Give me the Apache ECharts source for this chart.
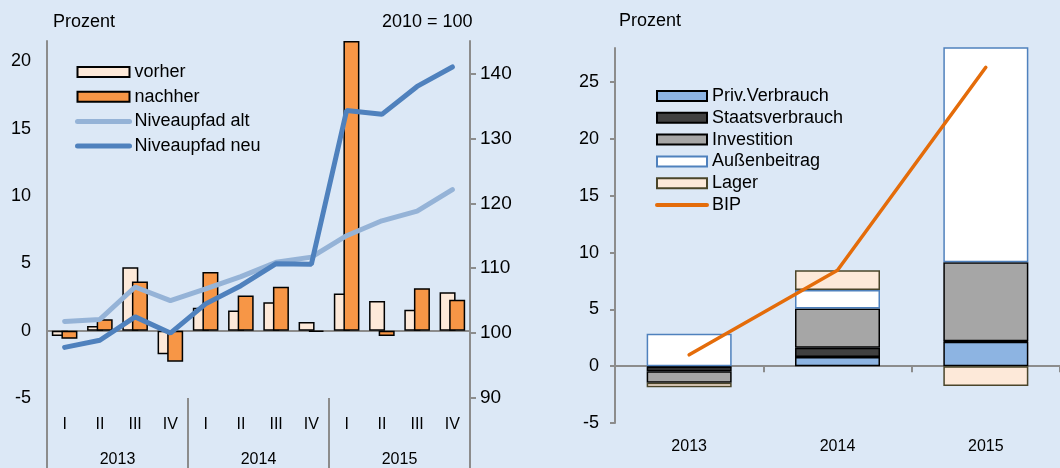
<!DOCTYPE html>
<html>
<head>
<meta charset="utf-8">
<script src="https://cdn.jsdelivr.net/npm/echarts@6/dist/echarts.min.js"></script>
<style>
  html, body { margin: 0; padding: 0; background: #DCE8F6; }
  #main { width: 1060px; height: 468px; }
</style>
</head>
<body>
<div id="main"></div>
<script>
// left panel: quarterly growth and level path
var quarters = ['I', 'II', 'III', 'IV', 'I', 'II', 'III', 'IV', 'I', 'II', 'III', 'IV'];
var years = ['2013', '2014', '2015'];
var vorher = [-0.4, 0.35, 4.7, -1.75, 1.7, 1.5, 2.1, 0.65, 2.75, 2.2, 1.55, 2.85];
var nachher = [-0.6, 0.85, 3.65, -2.3, 4.35, 2.6, 3.25, -0.1, 21.5, -0.4, 3.15, 2.3];
var nivAlt = [101.8, 102.1, 107.1, 105.0, 106.8, 108.7, 110.9, 111.7, 115.0, 117.3, 118.8, 122.1];
var nivNeu = [97.8, 98.9, 102.5, 100.0, 104.5, 107.3, 110.7, 110.6, 134.3, 133.7, 138.0, 141.0];
var leftTicks = [-5, 0, 5, 10, 15, 20];
var rightTicks = [90, 100, 110, 120, 130, 140];

// right panel: contributions per year
var priv = [-0.05, 0.8, 2.15];
var staat = [-0.4, 0.82, 0.05];
var invest = [-1.0, 3.45, 6.95];
var aussen = [2.85, 1.63, 19.1];
var lager = [-0.4, 1.75, -1.75];
var bip = [1.0, 8.45, 26.3];
var contribTicks = [-5, 0, 5, 10, 15, 20, 25];

var font = 'Liberation Sans, Arial, sans-serif';
var grey = '#8C8C8C';
var noDot = { color: 'rgba(0,0,0,0)', borderWidth: 0 };

var myChart = echarts.init(document.getElementById('main'));

var option = {
    backgroundColor: '#DCE8F6',
    animation: false,
    textStyle: { fontFamily: font, color: '#000' },
    title: [
        { text: 'Prozent', left: 53, top: 13, padding: 0, textStyle: { fontSize: 18, fontWeight: 'normal', color: '#000', fontFamily: font } },
        { text: '2010 = 100', left: 382, top: 13, padding: 0, textStyle: { fontSize: 18, fontWeight: 'normal', color: '#000', fontFamily: font } },
        { text: 'Prozent', left: 619, top: 12, padding: 0, textStyle: { fontSize: 18, fontWeight: 'normal', color: '#000', fontFamily: font } }
    ],
    legend: [
        {
            data: [
                { name: 'vorher', icon: 'rect' },
                { name: 'nachher', icon: 'rect' },
                { name: 'Niveaupfad alt', itemStyle: noDot, lineStyle: { width: 5, cap: 'round' } },
                { name: 'Niveaupfad neu', itemStyle: noDot, lineStyle: { width: 5, cap: 'round' } }
            ],
            orient: 'vertical', left: 75, top: 62, padding: 0,
            itemWidth: 52, itemHeight: 10, itemGap: 4.7,
            textStyle: { fontSize: 18, lineHeight: 20, color: '#000', fontFamily: font }
        },
        {
            data: [
                { name: 'Priv.Verbrauch', icon: 'rect' },
                { name: 'Staatsverbrauch', icon: 'rect' },
                { name: 'Investition', icon: 'rect' },
                { name: 'Außenbeitrag', icon: 'rect' },
                { name: 'Lager', icon: 'rect' },
                { name: 'BIP', itemStyle: noDot, lineStyle: { width: 4, cap: 'round' } }
            ],
            orient: 'vertical', left: 655, top: 87, padding: 0,
            itemWidth: 50, itemHeight: 10, itemGap: 3.8,
            textStyle: { fontSize: 18, lineHeight: 18, color: '#000', fontFamily: font }
        }
    ],
    grid: [
        { left: 47, top: 41, width: 423, height: 357 },
        { left: 615, top: 48, width: 445, height: 375 }
    ],
    xAxis: [
        {   // zero line, left panel
            type: 'category', gridIndex: 0, data: quarters,
            axisLine: { onZero: true, onZeroAxisIndex: 0, lineStyle: { color: grey, width: 2 } },
            axisTick: { show: false }, axisLabel: { show: false }
        },
        {   // quarter labels
            type: 'category', gridIndex: 0, data: quarters, position: 'bottom',
            axisLine: { show: false, onZero: false }, axisTick: { show: false },
            axisLabel: { margin: 19, fontSize: 16, color: '#000', fontFamily: font }
        },
        {   // year labels and dividers
            type: 'category', gridIndex: 0, data: years, position: 'bottom',
            axisLine: { show: false, onZero: false },
            axisTick: { show: true, length: 70, lineStyle: { color: grey, width: 2 } },
            axisLabel: { margin: 54, fontSize: 16, color: '#000', fontFamily: font }
        },
        {   // zero line, right panel
            type: 'category', gridIndex: 1, data: years,
            axisLine: { onZero: true, lineStyle: { color: grey, width: 2 } },
            axisTick: { show: true, length: 6, lineStyle: { color: grey, width: 2 } },
            axisLabel: { show: false }
        },
        {   // year labels, right panel
            type: 'category', gridIndex: 1, data: years, position: 'bottom',
            axisLine: { show: false, onZero: false }, axisTick: { show: false },
            axisLabel: { margin: 16, fontSize: 16, color: '#000', fontFamily: font }
        }
    ],
    yAxis: [
        {
            type: 'value', gridIndex: 0, min: -5, max: 21.5, position: 'left',
            splitLine: { show: false },
            axisLine: { show: true, lineStyle: { color: grey, width: 2 } },
            axisTick: { show: false },
            axisLabel: { customValues: leftTicks, margin: 16, fontSize: 18, color: '#000', fontFamily: font }
        },
        {
            type: 'value', gridIndex: 0, min: 90, max: 145, position: 'right',
            splitLine: { show: false },
            axisLine: { show: true, lineStyle: { color: grey, width: 2 } },
            axisTick: { show: true, length: 6, customValues: rightTicks, lineStyle: { color: grey, width: 2 } },
            axisLabel: { customValues: rightTicks, margin: 10, fontSize: 19, color: '#000', fontFamily: font }
        },
        {
            type: 'value', gridIndex: 1, min: -5, max: 28,
            splitLine: { show: false },
            axisLine: { show: true, lineStyle: { color: grey, width: 2 } },
            axisTick: { show: true, length: 5, customValues: contribTicks, lineStyle: { color: grey, width: 2 } },
            axisLabel: { customValues: contribTicks, margin: 16, fontSize: 18, color: '#000', fontFamily: font }
        }
    ],
    series: [
        {
            name: 'vorher', type: 'bar', xAxisIndex: 0, yAxisIndex: 0, data: vorher,
            barWidth: 16, barGap: '-40%',
            itemStyle: { color: '#FDE9D9', borderColor: '#000', borderWidth: 1.5 }
        },
        {
            name: 'nachher', type: 'bar', xAxisIndex: 0, yAxisIndex: 0, data: nachher,
            barWidth: 16, barGap: '-40%',
            itemStyle: { color: '#F79646', borderColor: '#000', borderWidth: 1.5 }
        },
        {
            name: 'Niveaupfad alt', type: 'line', xAxisIndex: 0, yAxisIndex: 1, data: nivAlt,
            symbol: 'none', z: 5,
            lineStyle: { color: '#95B3D7', width: 5, cap: 'round' },
            itemStyle: { color: '#95B3D7' }
        },
        {
            name: 'Niveaupfad neu', type: 'line', xAxisIndex: 0, yAxisIndex: 1, data: nivNeu,
            symbol: 'none', z: 6,
            lineStyle: { color: '#4F81BD', width: 5, cap: 'round' },
            itemStyle: { color: '#4F81BD' }
        },
        {
            name: 'Priv.Verbrauch', type: 'bar', xAxisIndex: 3, yAxisIndex: 2, data: priv,
            stack: 'c', barWidth: 85,
            itemStyle: { color: '#8DB4E2', borderColor: '#000', borderWidth: 1.5 }
        },
        {
            name: 'Staatsverbrauch', type: 'bar', xAxisIndex: 3, yAxisIndex: 2, data: staat,
            stack: 'c', barWidth: 85,
            itemStyle: { color: '#404040', borderColor: '#000', borderWidth: 1.5 }
        },
        {
            name: 'Investition', type: 'bar', xAxisIndex: 3, yAxisIndex: 2, data: invest,
            stack: 'c', barWidth: 85,
            itemStyle: { color: '#A6A6A6', borderColor: '#000', borderWidth: 1.5 }
        },
        {
            name: 'Außenbeitrag', type: 'bar', xAxisIndex: 3, yAxisIndex: 2, data: aussen,
            stack: 'c', barWidth: 85,
            itemStyle: { color: '#FFFFFF', borderColor: '#4F81BD', borderWidth: 1.5 }
        },
        {
            name: 'Lager', type: 'bar', xAxisIndex: 3, yAxisIndex: 2, data: lager,
            stack: 'c', barWidth: 85,
            itemStyle: { color: '#FDE9D9', borderColor: '#4A452A', borderWidth: 1.5 }
        },
        {
            name: 'BIP', type: 'line', xAxisIndex: 3, yAxisIndex: 2, data: bip,
            symbol: 'none', z: 6,
            lineStyle: { color: '#E46C0A', width: 3.5, cap: 'round' },
            itemStyle: { color: '#E46C0A' }
        }
    ]
};

myChart.setOption(option);
</script>
</body>
</html>
